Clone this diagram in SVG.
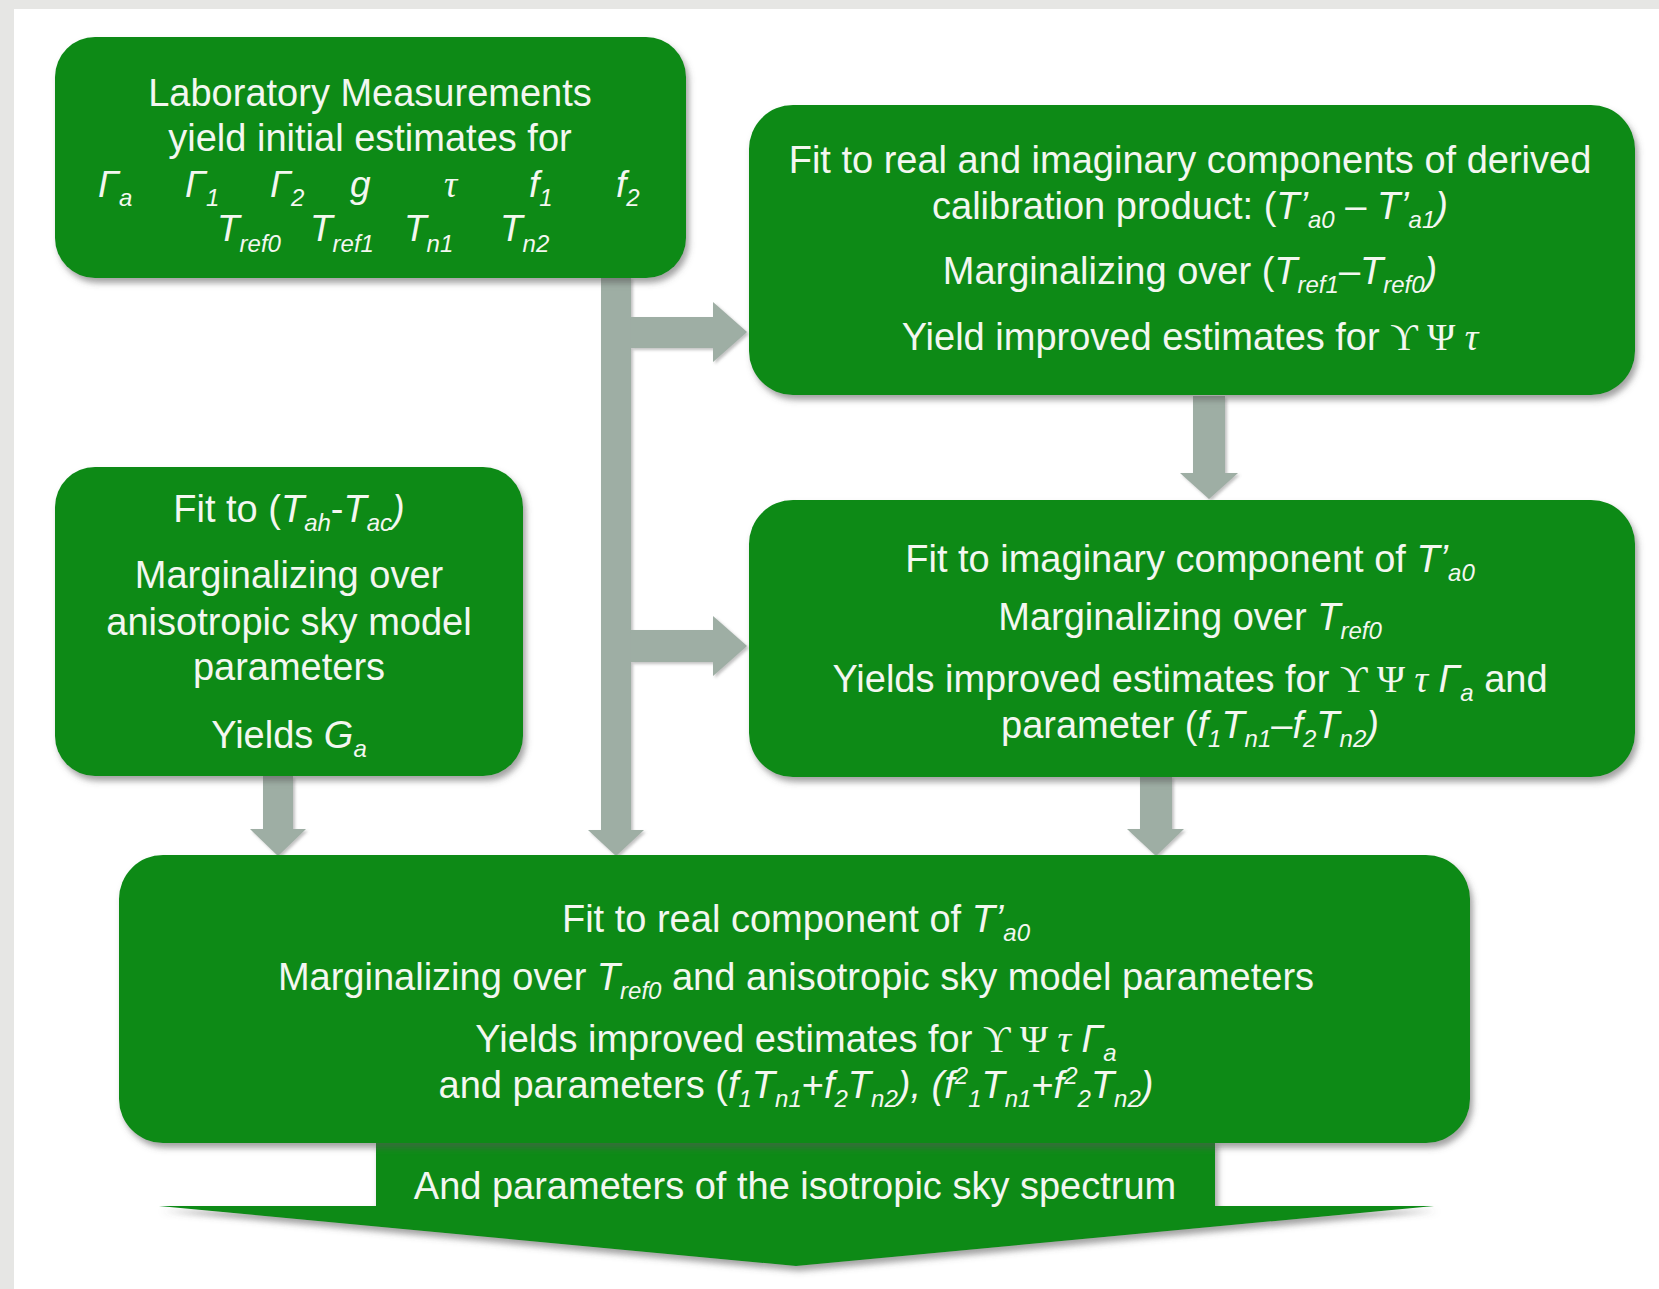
<svg xmlns="http://www.w3.org/2000/svg" width="1659" height="1289" viewBox="0 0 1659 1289">
<defs>
<filter id="sh" x="-5%" y="-5%" width="112%" height="115%">
<feDropShadow dx="3" dy="5" stdDeviation="3" flood-color="#555" flood-opacity="0.55"/>
</filter>
<filter id="ash" x="-20%" y="-20%" width="140%" height="140%">
<feDropShadow dx="2" dy="2" stdDeviation="1.5" flood-color="#777" flood-opacity="0.45"/>
</filter>
<linearGradient id="ag" x1="0" y1="0" x2="1" y2="0">
<stop offset="0" stop-color="#9aaaa0"/>
<stop offset="0.5" stop-color="#a6b5ab"/>
<stop offset="1" stop-color="#93a399"/>
</linearGradient>
</defs>
<style>
.box{fill:#088a18;filter:url(#sh)}
.arr{fill:#9eaea4;filter:url(#ash)}
.t{font-family:"Liberation Sans",Arial,sans-serif;font-size:38px;fill:#f3f7f0;text-anchor:middle}
.st{font-family:"Liberation Sans",Arial,sans-serif;font-size:37px;fill:#f3f7f0;font-style:italic}
.i{font-style:italic}
.s{font-size:24px;font-style:italic}
.g{font-family:"Liberation Serif","Times New Roman",serif}
</style>
<rect x="0" y="0" width="1659" height="1289" fill="#e6e6e4"/>
<rect x="14" y="9" width="1645" height="1280" fill="#ffffff"/>

<g id="connectors">
<path class="arr" d="M601,277 H631 V830 H644 L616,856 L588,830 H601 Z"/>
<path class="arr" d="M631,317 H713 V302 L747,332 L713,362 V348 H631 Z"/>
<path class="arr" d="M631,630 H713 V616 L747,646 L713,676 V662 H631 Z"/>
<path class="arr" d="M263,776 H293 V829 H306 L278,856 L250,829 H263 Z"/>
<path class="arr" d="M1193,396 H1225 V473 H1238 L1209,499 L1180,473 H1193 Z"/>
<path class="arr" d="M1140,776 H1172 V829 H1184 L1156,856 L1127,829 H1140 Z"/>
</g>

<g id="n1">
<rect class="box" x="55" y="37" width="631" height="241" rx="40"/>
<text class="t" x="370" y="106">Laboratory Measurements</text>
<text class="t" x="370" y="151">yield initial estimates for</text>
<text class="st" x="98" y="197">Γ<tspan class="s" dy="9">a</tspan></text>
<text class="st" x="185" y="197">Γ<tspan class="s" dy="9">1</tspan></text>
<text class="st" x="270" y="197">Γ<tspan class="s" dy="9">2</tspan></text>
<text class="st" x="350" y="197">g</text>
<text class="st g" x="444" y="197">τ</text>
<text class="st" x="529" y="197">f<tspan class="s" dy="9">1</tspan></text>
<text class="st" x="616" y="197">f<tspan class="s" dy="9">2</tspan></text>
<text class="st" x="217" y="241">T<tspan class="s" dy="11">ref0</tspan></text>
<text class="st" x="310" y="241">T<tspan class="s" dy="11">ref1</tspan></text>
<text class="st" x="404" y="241">T<tspan class="s" dy="11">n1</tspan></text>
<text class="st" x="500" y="241">T<tspan class="s" dy="11">n2</tspan></text>
</g>

<g id="n2">
<rect class="box" x="749" y="105" width="886" height="290" rx="44"/>
<text class="t" x="1190" y="173">Fit to real and imaginary components of derived</text>
<text class="t" x="1190" y="219">calibration product: (<tspan class="i">T’</tspan><tspan class="s" dy="9">a0</tspan><tspan dy="-9"> – </tspan><tspan class="i">T’</tspan><tspan class="s" dy="9">a1</tspan><tspan class="i" dy="-9">)</tspan></text>
<text class="t" x="1190" y="284">Marginalizing over (<tspan class="i">T</tspan><tspan class="s" dy="9">ref1</tspan><tspan dy="-9">–</tspan><tspan class="i">T</tspan><tspan class="s" dy="9">ref0</tspan><tspan class="i" dy="-9">)</tspan></text>
<text class="t" x="1190" y="350">Yield improved estimates for <tspan class="g">ϒ Ψ <tspan class="i">τ</tspan></tspan></text>
</g>

<g id="n3">
<rect class="box" x="55" y="467" width="468" height="309" rx="40"/>
<text class="t" x="289" y="522">Fit to (<tspan class="i">T</tspan><tspan class="s" dy="9">ah</tspan><tspan dy="-9">-</tspan><tspan class="i">T</tspan><tspan class="s" dy="9">ac</tspan><tspan class="i" dy="-9">)</tspan></text>
<text class="t" x="289" y="588">Marginalizing over</text>
<text class="t" x="289" y="635">anisotropic sky model</text>
<text class="t" x="289" y="680">parameters</text>
<text class="t" x="289" y="748">Yields <tspan class="i">G</tspan><tspan class="s" dy="9">a</tspan></text>
</g>

<g id="n4">
<rect class="box" x="749" y="500" width="886" height="277" rx="44"/>
<text class="t" x="1190" y="572">Fit to imaginary component of <tspan class="i">T’</tspan><tspan class="s" dy="9">a0</tspan></text>
<text class="t" x="1190" y="630">Marginalizing over <tspan class="i">T</tspan><tspan class="s" dy="9">ref0</tspan></text>
<text class="t" x="1190" y="692">Yields improved estimates for <tspan class="g">ϒ Ψ <tspan class="i">τ</tspan></tspan> <tspan class="i">Γ</tspan><tspan class="s" dy="9">a</tspan><tspan dy="-9"> and</tspan></text>
<text class="t" x="1190" y="738">parameter (<tspan class="i">f</tspan><tspan class="s" dy="9">1</tspan><tspan class="i" dy="-9">T</tspan><tspan class="s" dy="9">n1</tspan><tspan dy="-9">–</tspan><tspan class="i">f</tspan><tspan class="s" dy="9">2</tspan><tspan class="i" dy="-9">T</tspan><tspan class="s" dy="9">n2</tspan><tspan class="i" dy="-9">)</tspan></text>
</g>

<g id="n5">
<path class="box" d="M376,1140 H1215 V1206 H1434 L796,1266 L159,1206 H376 Z"/>
<rect class="box" x="119" y="855" width="1351" height="288" rx="44"/>
<text class="t" x="796" y="932">Fit to real component of <tspan class="i">T’</tspan><tspan class="s" dy="9">a0</tspan></text>
<text class="t" x="796" y="990">Marginalizing over <tspan class="i">T</tspan><tspan class="s" dy="9">ref0</tspan><tspan dy="-9"> and anisotropic sky model parameters</tspan></text>
<text class="t" x="796" y="1052">Yields improved estimates for <tspan class="g">ϒ Ψ <tspan class="i">τ</tspan></tspan> <tspan class="i">Γ</tspan><tspan class="s" dy="9">a</tspan></text>
<text class="t" x="796" y="1098">and parameters (<tspan class="i">f</tspan><tspan class="s" dy="9">1</tspan><tspan class="i" dy="-9">T</tspan><tspan class="s" dy="9">n1</tspan><tspan dy="-9">+</tspan><tspan class="i">f</tspan><tspan class="s" dy="9">2</tspan><tspan class="i" dy="-9">T</tspan><tspan class="s" dy="9">n2</tspan><tspan class="i" dy="-9">), (f</tspan><tspan class="s" dy="-14">2</tspan><tspan class="s" dy="23">1</tspan><tspan class="i" dy="-9">T</tspan><tspan class="s" dy="9">n1</tspan><tspan dy="-9">+</tspan><tspan class="i">f</tspan><tspan class="s" dy="-14">2</tspan><tspan class="s" dy="23">2</tspan><tspan class="i" dy="-9">T</tspan><tspan class="s" dy="9">n2</tspan><tspan class="i" dy="-9">)</tspan></text>
<text class="t" x="795" y="1199">And parameters of the isotropic sky spectrum</text>
</g>
</svg>
